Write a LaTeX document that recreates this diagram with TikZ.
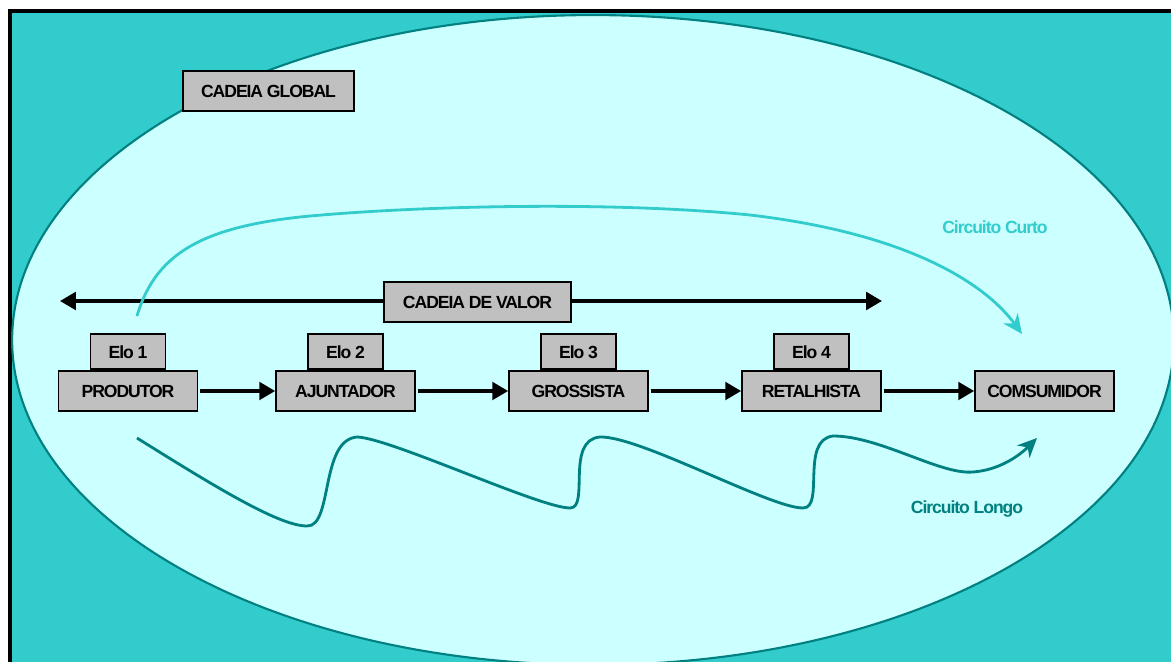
\documentclass[tikz,border=0pt]{standalone}
\usepackage{fontspec}
\setmainfont[LetterSpace=-6]{Liberation Sans}
\usetikzlibrary{arrows.meta}
\definecolor{seaTeal}{HTML}{33CCCC}
\definecolor{paleCyan}{HTML}{CCFFFF}
\definecolor{deepTeal}{HTML}{008080}
\definecolor{boxGray}{HTML}{C0C0C0}
\begin{document}
\begin{tikzpicture}[x=0.02cm,y=-0.02cm,
  font=\fontsize{10}{12}\selectfont\bfseries,
  box/.style={draw=black, line width=1pt, fill=boxGray, inner sep=0pt},
  stage/.style={box, minimum width=2.78cm, minimum height=0.8cm},
  link/.style={box, minimum width=1.5cm, minimum height=0.7cm},
  flow/.style={line width=1.9pt, -{Triangle[length=9pt,width=10pt]}, shorten <=1pt},
  circuit/.style={line width=1.6pt, -{Stealth[length=11pt,width=10pt,inset=3.5pt]}},
]
% page area and outer frame
\clip (0,0) rectangle (1171,662);
\fill[white] (0,0) rectangle (1171,662);
\draw[line width=1.8pt, fill=seaTeal] (10,11) rectangle (1200,700);
\draw[line width=1.2pt, draw=deepTeal, fill=paleCyan]
  (593,340) ellipse [x radius=11.62cm, y radius=6.5cm];

% title of the global chain
\node[box, minimum width=3.42cm, minimum height=0.8cm] (global) at (268.5,91) {CADEIA GLOBAL};

% value chain span
\coordinate (vl) at (60,301);
\coordinate (vr) at (882,301);
\node[box, minimum width=3.74cm, minimum height=0.8cm] (valor) at (477.5,302) {CADEIA DE VALOR};
\draw[flow, shorten <=0pt] (valor.west |- vl) -- (vl);
\draw[flow, shorten <=0pt] (valor.east |- vr) -- (vr);

% chain stages
\node[stage] (prod) at (128,391) {PRODUTOR};
\node[stage] (ajun) at (345.5,391) {AJUNTADOR};
\node[stage] (gros) at (578.5,391) {GROSSISTA};
\node[stage] (reta) at (811.5,391) {RETALHISTA};
\node[stage] (cons) at (1044.5,391) {COMSUMIDOR};

\node[link, anchor=south] (elo1) at (prod.north) {Elo 1};
\node[link, anchor=south] (elo2) at (ajun.north) {Elo 2};
\node[link, anchor=south] (elo3) at (gros.north) {Elo 3};
\node[link, anchor=south] (elo4) at (reta.north) {Elo 4};

\draw[flow] (prod) -- (ajun);
\draw[flow] (ajun) -- (gros);
\draw[flow] (gros) -- (reta);
\draw[flow] (reta) -- (cons);

% short circuit
\coordinate (cc0) at (137,316);
\coordinate (cc1) at (1022,334);
\draw[circuit, seaTeal] (cc0) .. controls (155,255) and (200,228) .. (300,217)
  .. controls (400,207) and (600,200) .. (750,215)
  .. controls (920,235) and (990,290) .. (cc1);
\node[text=seaTeal] (curto) at (995,227) {Circuito Curto};

% long circuit
\coordinate (cl0) at (137,438);
\coordinate (cl1) at (1037,438);
\draw[circuit, deepTeal] (cl0) .. controls (220,490) and (280,526) .. (307,526)
  .. controls (333,527) and (320,440) .. (357,437)
  .. controls (390,438) and (540,508) .. (570,508)
  .. controls (590,508) and (565,440) .. (600,437)
  .. controls (640,436) and (770,508) .. (803,508)
  .. controls (825,508) and (800,440) .. (833,436)
  .. controls (880,436) and (940,475) .. (973,472)
  .. controls (1000,470) and (1020,455) .. (cl1);
\node[text=deepTeal] (longo) at (967,509) {Circuito Longo};
\end{tikzpicture}
\end{document}
